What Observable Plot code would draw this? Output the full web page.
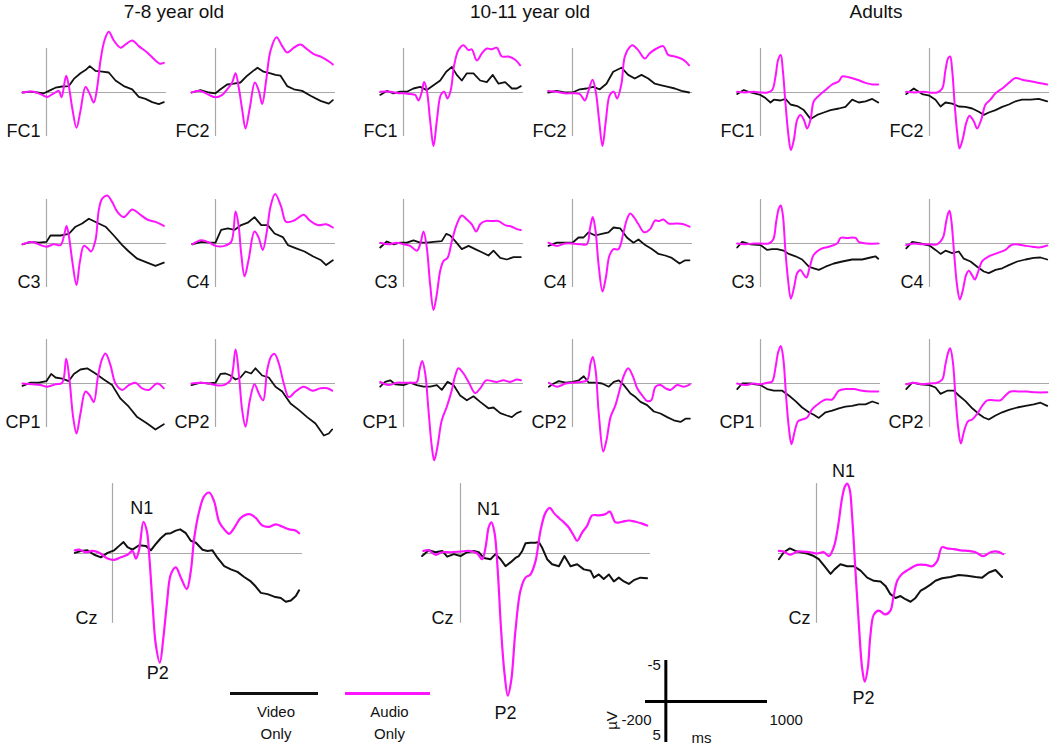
<!DOCTYPE html>
<html><head><meta charset="utf-8">
<script src="https://cdn.jsdelivr.net/npm/d3@7"></script>
<script src="https://cdn.jsdelivr.net/npm/@observablehq/plot@0.6"></script>
<style>
body{margin:0;background:#fff;}
#chart{position:relative;width:1050px;height:748px;overflow:hidden;font-family:Arial,"Liberation Sans",sans-serif;color:#111;}
.title{position:absolute;font-size:19px;transform:translateX(-50%);white-space:nowrap;}
.leg{position:absolute;font-size:15px;text-align:center;line-height:22px;transform:translateX(-50%);}
.legline{position:absolute;height:3px;}
</style></head><body><div id="chart"></div>
<script>
// ---------- DATA: [time ms, amplitude µV] (negative up) ----------
const groups = ["7-8 year old", "10-11 year old", "Adults"];
const electrodes = [["FC1","FC2"],["C3","C4"],["CP1","CP2"]];
const seriesNames = ["Video Only", "Audio Only"];

// 7-8 year old
const audio_78_FC1 = [[-200,0],[-106,-0.1],[-22,0.4],[6,0.55],[61,0.1],[103,-0.2],[125,0.6],[164,-2.1],[186,-0.8],[214,1.9],[250,4.4],[283,2.3],[325,-0.7],[361,0.2],[394,1.25],[422,-0.6],[450,-4.0],[483,-6.5],[519,-7.6],[561,-6.5],[617,-5.6],[658,-6.0],[714,-6.5],[769,-5.8],[839,-5.0],[908,-4.0],[944,-3.6],[978,-3.7]];
const video_78_FC1 = [[-200,0],[-133,-0.1],[-78,0],[-22,0.1],[33,-0.3],[75,-0.6],[131,-0.75],[186,-0.8],[228,-1.7],[283,-2.4],[325,-2.8],[361,-3.3],[408,-2.7],[464,-2.6],[519,-2.5],[575,-1.5],[644,-0.8],[714,-0.4],[769,0.55],[825,0.8],[881,1.2],[936,1.45],[978,1.2]];
const audio_78_FC2 = [[-200,0],[-125,-0.2],[-56,0.3],[0,0.6],[56,0.3],[97,-0.4],[139,-1.25],[167,-2.4],[194,-0.6],[222,2.1],[250,4.5],[286,1.9],[328,-1.25],[361,-0.2],[389,1.45],[422,-1.5],[458,-5.2],[508,-6.9],[556,-5.8],[597,-5.0],[653,-5.6],[708,-6.0],[764,-5.4],[819,-4.8],[889,-4.4],[958,-3.75],[978,-3.5]];
const video_78_FC2 = [[-200,0],[-125,-0.3],[-56,0],[0,0.1],[42,-0.4],[97,-1.0],[153,-1.1],[208,-1.25],[264,-2.1],[314,-2.7],[350,-3.1],[400,-2.6],[458,-2.4],[500,-2.2],[542,-2.1],[597,-0.8],[653,-0.4],[722,-0.2],[792,0.4],[875,1.05],[944,1.4],[978,0.95]];
const audio_78_C3 = [[-200,0.1],[-119,-0.2],[-50,0.2],[0,0.4],[61,0.1],[117,0.2],[150,-1.25],[167,-2.2],[186,-1.0],[214,2.1],[250,5.2],[278,2.3],[311,0.3],[344,0.6],[372,1.0],[408,-0.4],[436,-4.2],[464,-5.6],[506,-6.0],[547,-5.2],[589,-4.0],[644,-3.3],[714,-4.25],[769,-3.75],[839,-3.0],[908,-2.7],[978,-2.2]];
const video_78_C3 = [[-200,0.1],[-133,-0.2],[-64,-0.1],[0,-0.2],[33,-1.0],[75,-1.0],[117,-1.0],[186,-1.2],[242,-2.1],[297,-2.5],[353,-3.1],[422,-2.6],[492,-2.1],[561,-1.0],[631,0.2],[686,1.0],[756,1.9],[839,2.4],[908,2.8],[978,2.4]];
const audio_78_C4 = [[-194,0.1],[-119,-0.4],[-50,-0.1],[0,0.3],[75,0.3],[131,-0.2],[167,-4.0],[192,-2.3],[214,1.25],[242,4.1],[275,2.1],[325,-1.5],[358,-0.8],[394,0.8],[428,-1.5],[458,-4.6],[497,-6.2],[547,-4.6],[589,-2.7],[658,-2.9],[736,-3.6],[783,-2.9],[853,-2.3],[922,-2.4],[978,-2.0]];
const video_78_C4 = [[-194,0.1],[-119,-0.2],[-50,-0.1],[0,-0.1],[47,-1.7],[103,-1.9],[158,-1.7],[214,-2.3],[269,-2.6],[325,-3.3],[381,-2.3],[436,-2.3],[492,-1.25],[561,-0.8],[603,0.2],[672,0.6],[742,1.0],[811,1.6],[881,2.1],[922,2.7],[978,2.1]];
const audio_78_CP1 = [[-200,0],[-119,0.1],[-50,0.2],[6,0.4],[75,0.1],[131,-0.1],[164,-3.1],[192,-0.4],[222,4.2],[250,6.25],[283,3.75],[325,1.0],[361,1.5],[394,2.3],[428,-0.8],[464,-3.1],[492,-3.75],[533,-2.3],[575,0],[631,0.8],[686,0.2],[742,-0.1],[797,0.6],[853,0.8],[922,0],[978,0.6]];
const video_78_CP1 = [[-200,0.3],[-133,-0.1],[-64,-0.1],[0,-0.3],[39,-1.2],[75,-0.75],[131,-0.6],[186,-0.3],[228,-1.2],[283,-1.75],[339,-1.9],[408,-1.25],[478,-0.5],[547,0.2],[617,1.9],[686,2.9],[756,4.2],[839,5.0],[908,5.75],[978,5.1]];
const audio_78_CP2 = [[-200,0],[-125,-0.1],[-56,0],[0,0.2],[69,0.2],[125,-0.4],[167,-4.25],[194,-1.25],[222,3.3],[250,5.4],[286,2.1],[325,0.1],[361,1.25],[397,2.1],[431,-1.7],[464,-3.4],[492,-3.7],[528,-2.5],[569,0],[611,1.7],[667,1.0],[736,0.4],[806,0.9],[875,0.6],[931,0.6],[972,0.9]];
const video_78_CP2 = [[-200,0.2],[-125,-0.1],[-56,0],[0,-0.1],[42,-1.2],[83,-1.25],[125,-1.0],[167,-0.5],[208,-0.75],[250,-1.5],[297,-1.25],[333,-1.9],[389,-1.0],[444,-0.75],[500,0.4],[556,1.0],[625,2.5],[694,3.3],[764,4.2],[833,5.0],[903,6.5],[944,6.25],[972,5.75]];

// 10-11 year old
const audio_1011_FC1 = [[-194,-0.1],[-111,-0.1],[-42,0.1],[0,0.1],[56,0.2],[97,0.3],[125,1.0],[153,-0.1],[172,-1.3],[194,-0.3],[222,3.5],[250,6.7],[278,3.5],[311,0.3],[339,-0.1],[367,0.75],[394,-0.3],[422,-3.4],[458,-5.3],[500,-5.9],[542,-5.3],[569,-5.4],[611,-4.0],[653,-4.9],[694,-5.5],[736,-5.4],[778,-5.6],[819,-4.5],[875,-4.5],[931,-4.1],[972,-3.4]];
const video_1011_FC1 = [[-194,0.3],[-139,-0.2],[-83,0.1],[-28,-0.1],[28,-0.1],[83,-0.5],[139,-0.7],[194,-0.3],[250,-0.9],[306,-1.5],[356,-2.6],[403,-3.2],[444,-2.2],[486,-1.5],[528,-2.4],[583,-2.4],[639,-1.5],[694,-1.3],[744,-2.2],[792,-1.1],[847,-1.3],[903,-0.5],[944,-0.5],[978,-0.8]];
const audio_1011_FC2 = [[-203,-0.2],[-133,-0.1],[-64,0.1],[0,0.1],[61,0.2],[103,1.0],[131,-0.1],[167,-1.6],[194,-0.1],[222,3.5],[250,6.7],[278,3.5],[311,0.3],[344,-0.1],[372,0.75],[408,-1.1],[436,-4.5],[478,-5.7],[500,-5.9],[547,-5.3],[603,-4.25],[644,-4.9],[700,-5.5],[756,-5.8],[797,-4.7],[853,-4.5],[922,-4.1],[972,-3.4]];
const video_1011_FC2 = [[-203,0],[-133,-0.2],[-64,0],[0,0],[61,-0.4],[117,-0.5],[172,-0.7],[228,-0.4],[283,-1.1],[339,-2.6],[408,-3.1],[464,-2.2],[519,-1.75],[575,-2.2],[631,-1.75],[686,-1.1],[742,-0.9],[797,-0.7],[853,-0.5],[908,-0.2],[972,0]];
const audio_1011_C3 = [[-194,-0.1],[-125,0.1],[-56,-0.1],[0,0.1],[56,0.3],[111,0.9],[139,0.1],[167,-1.5],[194,0.5],[222,5.1],[250,8.3],[278,6.3],[306,3.4],[333,2.2],[367,1.8],[403,-0.3],[444,-2.4],[486,-3.5],[528,-3.0],[569,-2.4],[606,-1.5],[639,-2.4],[681,-2.8],[736,-2.8],[792,-2.8],[847,-2.3],[903,-2.1],[944,-1.8],[978,-1.7]];
const video_1011_C3 = [[-194,0.5],[-139,-0.25],[-83,0.1],[-28,-0.1],[28,-0.1],[83,-0.4],[139,-0.1],[194,-0.1],[250,-0.2],[319,-0.3],[356,-1.2],[389,-1.0],[431,-0.3],[486,0.7],[542,0.3],[597,0.7],[653,1.1],[708,1.5],[750,0.9],[806,1.8],[861,2.0],[917,1.7],[978,1.7]];
const audio_1011_C4 = [[-200,-0.1],[-131,0.3],[-61,0],[0,0],[64,0.1],[119,0.1],[147,-2.0],[169,-3.3],[192,-1.6],[217,2.6],[250,6.0],[278,4.25],[308,1.5],[342,0.7],[383,0.7],[425,-1.4],[453,-3.0],[481,-3.75],[514,-3.25],[550,-2.4],[597,-1.4],[647,-1.8],[689,-2.9],[717,-2.8],[758,-3.0],[800,-2.5],[869,-2.5],[925,-2.4],[975,-2.1]];
const video_1011_C4 = [[-200,0.3],[-131,-0.1],[-61,-0.1],[0,-0.1],[50,-0.75],[92,-0.75],[133,-1.4],[189,-1.0],[244,-1.2],[300,-1.4],[342,-2.0],[397,-1.9],[453,-0.75],[508,-0.1],[550,-0.5],[606,0.2],[661,0.7],[717,1.3],[772,1.5],[828,1.8],[892,2.5],[939,2.1],[975,2.1]];
const audio_1011_CP1 = [[-194,-0.2],[-125,0.2],[-56,-0.1],[0,-0.1],[56,-0.1],[111,-0.2],[133,-1.7],[156,-2.8],[181,-1.25],[208,3.3],[236,7.9],[256,9.6],[283,7.9],[319,4.6],[361,2.9],[403,0.8],[431,-1.0],[458,-1.9],[500,-1.25],[542,-0.2],[597,1.2],[639,0.6],[689,-0.4],[736,-0.3],[778,-0.2],[833,-0.4],[889,-0.2],[944,-0.5],[978,-0.4]];
const video_1011_CP1 = [[-194,0.4],[-153,-0.2],[-111,-0.4],[-69,0.1],[0,0.2],[56,-0.1],[111,0.2],[167,0.4],[222,0.4],[278,0.2],[319,0.8],[367,-0.2],[417,0.2],[472,1.5],[528,2.1],[583,1.6],[639,2.3],[708,3.1],[750,3.0],[806,3.7],[861,4.0],[903,4.2],[944,3.7],[978,3.5]];
const audio_1011_CP2 = [[-197,-0.1],[-128,0.4],[-58,0],[0,-0.1],[67,-0.2],[122,-0.4],[150,-2.5],[169,-3.3],[192,-1.7],[219,3.75],[256,8.5],[283,7.1],[317,4.2],[358,2.7],[400,0.4],[428,-1.0],[464,-1.9],[506,-0.8],[539,0.6],[581,1.5],[622,2.2],[656,2.1],[692,0.4],[733,0.2],[775,0.6],[817,0.8],[872,0.2],[928,0.4],[978,0.1]];
const video_1011_CP2 = [[-197,0.4],[-156,0],[-114,-0.3],[-58,-0.1],[0,-0.2],[53,-0.4],[94,-0.9],[136,-0.1],[192,-0.1],[247,0],[303,0.4],[344,-0.2],[386,-0.4],[428,0.2],[483,1.25],[525,1.7],[567,2.3],[622,2.7],[678,3.5],[733,3.75],[789,4.2],[844,4.6],[900,4.8],[942,4.4],[978,4.4]];

// Adults
const audio_ad_FC1 = [[-194,-0.1],[-125,0],[-56,-0.1],[0,0],[56,0],[97,-0.3],[125,-2.0],[147,-4.1],[169,-4.7],[186,-2.8],[208,1.3],[231,5.1],[253,7.2],[278,5.9],[306,3.4],[333,2.8],[361,3.4],[389,4.5],[417,3.4],[444,1.1],[486,0.4],[542,-0.3],[597,-1.0],[653,-1.4],[681,-2.0],[736,-1.9],[806,-1.6],[875,-1.2],[931,-1.0],[981,-1.0]];
const video_ad_FC1 = [[-194,0.2],[-139,-0.3],[-83,0],[0,0.3],[42,0.7],[83,1.25],[111,0.9],[167,1.0],[208,0.8],[250,1.5],[306,1.7],[361,2.2],[417,3.3],[472,2.8],[528,2.5],[583,2.2],[653,2.0],[708,1.8],[764,0.9],[819,1.25],[875,1.1],[931,0.8],[981,1.25]];
const audio_ad_FC2 = [[-194,-0.1],[-117,0],[-47,-0.1],[0,0],[64,0],[106,-0.5],[133,-2.8],[156,-4.3],[172,-4.5],[189,-2.8],[211,1.75],[233,5.3],[250,7.0],[278,5.75],[306,3.8],[333,2.9],[369,3.6],[397,4.5],[431,3.4],[467,1.5],[508,0.9],[550,0.1],[606,-0.5],[661,-1.2],[717,-1.8],[772,-1.6],[842,-1.4],[911,-1.2],[981,-1.0]];
const video_ad_FC2 = [[-194,0.2],[-131,-0.5],[-61,0.2],[0,0.4],[50,0.9],[92,1.75],[133,1.25],[189,1.4],[244,1.75],[300,1.8],[356,2.0],[411,2.4],[453,2.8],[494,2.5],[550,2.2],[606,1.8],[661,1.5],[717,1.1],[772,0.9],[842,0.9],[911,0.8],[981,1.1]];
const audio_ad_C3 = [[-194,0],[-125,0.1],[-56,0],[0,0],[69,0],[106,-0.5],[131,-2.75],[153,-4.4],[169,-4.75],[186,-3.6],[208,1.0],[231,4.75],[253,6.9],[281,5.4],[306,3.7],[333,3.3],[361,3.9],[383,4.25],[408,3.1],[444,1.4],[500,0.7],[569,0.4],[639,0],[667,-0.7],[722,-0.7],[792,-0.7],[819,-0.2],[889,0],[981,0]];
const video_ad_C3 = [[-194,0.5],[-153,-0.2],[-83,0.1],[0,0.2],[56,0.8],[97,0.7],[139,0.7],[194,0.9],[236,1.3],[292,1.6],[347,2.0],[403,2.9],[444,3.1],[486,3.3],[542,2.9],[611,2.5],[681,2.25],[764,2.0],[847,2.0],[917,1.75],[958,1.6],[981,1.9]];
const audio_ad_C4 = [[-194,0.2],[-131,0],[-61,0.1],[0,0.1],[64,0.1],[111,-0.7],[139,-2.75],[156,-3.8],[167,-4.1],[183,-2.75],[206,1.4],[231,5.4],[253,7.0],[278,5.8],[306,3.9],[328,3.4],[356,4.0],[378,4.5],[406,3.5],[439,2.2],[494,1.6],[564,1.2],[633,0.8],[675,0.25],[717,0.1],[786,0.25],[856,0.4],[911,0.5],[981,0.25]];
const video_ad_C4 = [[-194,0.6],[-144,-0.2],[-75,0],[0,0.25],[50,0.8],[92,1.3],[133,0.9],[189,1.2],[244,1.0],[286,1.9],[342,2.25],[397,2.9],[453,3.5],[494,3.7],[550,3.3],[606,3.1],[661,2.7],[731,2.25],[800,2.0],[869,1.8],[925,1.75],[981,2.0]];
const audio_ad_CP1 = [[-194,0],[-125,0.2],[-56,0],[0,0.1],[56,-0.1],[97,-0.25],[125,-2.0],[147,-3.9],[169,-4.7],[189,-3.25],[214,1.75],[236,5.5],[258,7.6],[286,5.9],[314,4.7],[347,4.5],[389,4.25],[431,3.2],[486,2.5],[542,2.0],[597,2.0],[653,0.9],[708,0.7],[778,0.7],[847,0.9],[917,1.0],[981,1.0]];
const video_ad_CP1 = [[-194,0.7],[-153,0],[-83,0],[0,0.2],[56,0.7],[111,0.9],[181,0.9],[236,1.5],[292,2.2],[347,3.0],[403,3.6],[444,3.9],[486,4.3],[542,3.6],[597,3.4],[653,3.1],[708,2.9],[764,2.8],[819,2.6],[875,2.6],[931,2.25],[981,2.5]];
const audio_ad_CP2 = [[-194,0.1],[-131,-0.1],[-61,0.1],[0,0],[64,-0.1],[106,-0.5],[133,-2.4],[156,-3.9],[172,-4.4],[194,-2.8],[217,1.75],[239,5.5],[261,7.5],[289,5.9],[322,4.7],[356,4.5],[397,3.8],[439,2.8],[481,2.1],[536,2.1],[592,2.1],[633,1.5],[675,1.0],[744,1.0],[814,1.0],[883,1.1],[981,1.1]];
const video_ad_CP2 = [[-194,0.7],[-144,-0.1],[-75,0.1],[0,0.2],[50,0.5],[92,1.3],[147,0.9],[203,0.9],[244,1.5],[300,2.2],[356,3.1],[411,3.8],[453,4.25],[494,4.5],[550,4.0],[606,3.6],[661,3.3],[731,3.0],[800,2.8],[869,2.6],[925,2.4],[981,2.8]];

// Cz (large panels)
const audio_78_Cz = [[-198,-0.25],[-175,-0.3],[-140,-0.1],[-105,-0.2],[-70,-0.05],[-26,0.4],[9,0.5],[44,0.3],[79,0.1],[105,-0.2],[123,0.4],[140,-0.3],[163,-2.5],[181,-1.75],[193,0.1],[211,4.0],[228,7.2],[249,8.6],[268,6.6],[286,4.0],[307,1.65],[333,1.1],[360,1.9],[391,2.8],[412,1.4],[430,-1.2],[456,-3.3],[482,-4.5],[509,-4.8],[535,-4.1],[561,-2.5],[588,-1.9],[614,-1.55],[640,-2.0],[675,-2.8],[719,-3.1],[754,-2.8],[789,-2.2],[825,-2.1],[860,-2.3],[895,-2.1],[930,-1.9],[965,-1.8],[982,-1.6]];
const video_78_Cz = [[-198,-0.05],[-167,-0.2],[-132,-0.25],[-96,0.1],[-61,0.3],[-26,-0.05],[9,-0.25],[35,-0.6],[58,-0.9],[79,-0.5],[105,-0.3],[140,-0.65],[175,-0.6],[202,-0.25],[228,-0.75],[254,-1.2],[281,-1.55],[307,-1.6],[333,-1.8],[356,-1.9],[386,-1.6],[412,-1.0],[439,-0.85],[474,-0.3],[500,-0.2],[526,-0.25],[553,0.35],[588,1.0],[623,1.25],[658,1.45],[693,1.85],[728,2.2],[754,2.6],[781,3.1],[816,3.2],[851,3.4],[886,3.5],[912,3.8],[939,3.7],[965,3.35],[982,2.9]];
const audio_1011_Cz = [[-196,-0.2],[-167,-0.25],[-132,0.1],[-96,-0.1],[-53,-0.1],[0,-0.15],[44,-0.2],[88,0],[114,0.45],[132,-0.5],[149,-2.1],[163,-2.45],[179,-1.65],[196,1.35],[214,6.1],[232,9.5],[249,11.2],[267,10.0],[289,6.1],[316,2.9],[342,1.9],[368,1.65],[395,0.6],[421,-1.8],[447,-3.2],[470,-3.6],[491,-3.2],[518,-2.8],[544,-2.45],[570,-2.05],[596,-1.4],[614,-1.0],[640,-1.65],[667,-2.2],[693,-3.0],[728,-3.0],[763,-3.1],[786,-3.3],[816,-2.45],[851,-2.5],[886,-2.6],[921,-2.5],[956,-2.35],[982,-2.2]];
const video_1011_Cz = [[-202,0.2],[-167,-0.25],[-132,-0.1],[-96,-0.2],[-70,0.25],[-35,0.05],[0,0.2],[35,-0.1],[70,-0.2],[96,-0.1],[123,0.35],[158,0.45],[184,0.05],[211,0.45],[237,1.0],[263,0.7],[289,0.35],[307,0.2],[325,-0.2],[342,-0.8],[368,-0.85],[395,-0.85],[412,-0.9],[430,-0.45],[456,0.45],[482,0.85],[518,1.0],[547,0.2],[579,1.0],[614,0.85],[649,1.25],[684,1.35],[702,1.9],[728,1.65],[754,2.0],[781,1.65],[807,2.2],[833,1.9],[860,2.2],[886,2.4],[912,2.1],[947,1.9],[982,1.95]];
const audio_ad_Cz = [[-198,-0.2],[-172,-0.15],[-137,0.1],[-102,-0.15],[-67,-0.15],[-32,-0.1],[4,0],[39,-0.1],[65,0.2],[91,-0.5],[112,-2.0],[135,-4.4],[149,-5.25],[161,-5.5],[174,-5.1],[188,-2.8],[205,1.35],[223,5.6],[240,9.0],[254,10.1],[270,9.0],[284,6.4],[302,4.8],[328,4.5],[363,4.8],[389,4.5],[404,3.5],[425,2.15],[451,1.6],[486,1.25],[530,0.9],[574,0.9],[609,1.0],[635,0.6],[661,-0.5],[688,-0.4],[723,-0.35],[758,-0.25],[802,-0.2],[837,-0.1],[877,0.2],[916,-0.1],[951,-0.15],[982,0.05]];
const video_ad_Cz = [[-198,0.45],[-172,-0.1],[-140,-0.4],[-111,-0.2],[-84,-0.1],[-49,0],[-14,0.2],[12,0.45],[42,1.0],[74,1.6],[95,1.25],[126,0.85],[161,1.0],[196,1.0],[232,1.35],[267,1.9],[302,2.15],[337,2.2],[363,2.55],[389,3.2],[416,3.5],[442,3.35],[468,3.6],[495,3.8],[521,3.5],[547,2.95],[574,2.7],[600,2.45],[626,2.15],[661,1.95],[705,1.85],[749,1.7],[793,1.75],[837,1.85],[872,1.9],[907,1.5],[942,1.3],[977,1.85]];

// component labels on Cz panels: [label, time, µV]
const czPeaks = {
  "78": [["N1",154,-3.6],["P2",238,9.4]],
  "1011": [["N1",147,-3.5],["P2",237,12.6]],
  "ad": [["N1",142,-6.5],["P2",247,11.4]]
};
// scale bar
const scaleTime = [-200, 1000];
const scaleAmp = [-5, 5];

// ---------- LAYOUT ----------
const chart = document.getElementById("chart");
const FONT = 'Arial, "Liberation Sans", sans-serif';
const MAGENTA = "#ff14ff";
const DATA = {
  "78": {FC1:[audio_78_FC1,video_78_FC1],FC2:[audio_78_FC2,video_78_FC2],C3:[audio_78_C3,video_78_C3],C4:[audio_78_C4,video_78_C4],CP1:[audio_78_CP1,video_78_CP1],CP2:[audio_78_CP2,video_78_CP2],Cz:[audio_78_Cz,video_78_Cz]},
  "1011": {FC1:[audio_1011_FC1,video_1011_FC1],FC2:[audio_1011_FC2,video_1011_FC2],C3:[audio_1011_C3,video_1011_C3],C4:[audio_1011_C4,video_1011_C4],CP1:[audio_1011_CP1,video_1011_CP1],CP2:[audio_1011_CP2,video_1011_CP2],Cz:[audio_1011_Cz,video_1011_Cz]},
  "ad": {FC1:[audio_ad_FC1,video_ad_FC1],FC2:[audio_ad_FC2,video_ad_FC2],C3:[audio_ad_C3,video_ad_C3],C4:[audio_ad_C4,video_ad_C4],CP1:[audio_ad_CP1,video_ad_CP1],CP2:[audio_ad_CP2,video_ad_CP2],Cz:[audio_ad_Cz,video_ad_Cz]}
};
const groupKeys = ["78","1011","ad"];
const groupX0 = [[46,215],[403,572],[760,929]];   // pixel of t=0 for left/right column
const rowY0 = [92,243,383];                        // pixel of 0 µV per row
const czX0 = [112,460,816], czY0 = 552.5;
const czLabelDx = [-15,-7,-6];
const titleX = [174,530,876];

const rows = arr => arr.map(([t,v]) => ({t, v}));

function panel(key, name, x0, y0, big, labelDx) {
  const [audio, video] = DATA[key][name];
  const W = big ? 300 : 200, H = big ? 320 : 200;
  const ox = 60, oy = big ? 110 : 100;
  const pxms = big ? 0.19 : 0.12, pxuv = big ? 12.7 : 8;
  const marks = [
    Plot.ruleY([0], {x1: -200, x2: 1000, stroke: "#a8a8a8", strokeWidth: 1.2}),
    Plot.ruleX([0], {y1: -5.5, y2: 5.5, stroke: "#a8a8a8", strokeWidth: 1.2}),
    Plot.line(rows(video), {x: "t", y: "v", stroke: "#111", strokeWidth: big ? 2 : 1.8, curve: "linear"}),
    Plot.line(rows(audio), {x: "t", y: "v", stroke: MAGENTA, strokeWidth: big ? 2.2 : 2, curve: "catmull-rom"}),
    Plot.text([name], {x: 0, y: big ? 5.1 : 4.8, dx: labelDx, text: d => d, textAnchor: "end", fontSize: 18, fill: "#111"})
  ];
  if (big) {
    marks.push(Plot.text(czPeaks[key], {x: d => d[1], y: d => d[2], text: d => d[0], fontSize: 18, fill: "#111"}));
  }
  const svg = Plot.plot({
    width: W, height: H, margin: 0,
    x: {domain: [-200, 1000], range: [ox - 200 * pxms, ox + 1000 * pxms], axis: null},
    y: {domain: [-5.5, 5.5], range: [oy - 5.5 * pxuv, oy + 5.5 * pxuv], axis: null},
    style: {background: "transparent", overflow: "visible", fontFamily: FONT},
    marks
  });
  svg.style.position = "absolute";
  svg.style.left = (x0 - ox) + "px";
  svg.style.top = (y0 - oy) + "px";
  chart.appendChild(svg);
}

groupKeys.forEach((key, g) => {
  const t = document.createElement("div");
  t.className = "title"; t.textContent = groups[g];
  t.style.left = titleX[g] + "px"; t.style.top = "1px";
  chart.appendChild(t);
  electrodes.forEach((pair, r) => {
    pair.forEach((name, c) => panel(key, name, groupX0[g][c], rowY0[r], false, -6));
  });
  panel(key, "Cz", czX0[g], czY0, true, czLabelDx[g]);
});

// legend
[[seriesNames[0], "#111", 230, 318], [seriesNames[1], MAGENTA, 345, 430]].forEach(([label, col, a, b]) => {
  const l = document.createElement("div");
  l.className = "legline"; l.style.background = col;
  l.style.left = a + "px"; l.style.width = (b - a) + "px"; l.style.top = "692px";
  chart.appendChild(l);
  const t = document.createElement("div");
  t.className = "leg"; t.innerHTML = label.replace(" ", "<br>");
  t.style.left = ((a + b) / 2 + 2) + "px"; t.style.top = "701px";
  chart.appendChild(t);
});

// scale bar
{
  const L = 590, T = 640;
  const svg = Plot.plot({
    width: 240, height: 104, margin: 0,
    x: {domain: scaleTime, range: [645 - L, 767 - L], axis: null},
    y: {domain: scaleAmp, range: [660 - T, 742 - T], axis: null},
    style: {background: "transparent", overflow: "visible", fontFamily: FONT},
    marks: [
      Plot.ruleY([0], {x1: scaleTime[0], x2: scaleTime[1], stroke: "#000", strokeWidth: 3}),
      Plot.ruleX([0], {y1: scaleAmp[0], y2: scaleAmp[1], stroke: "#000", strokeWidth: 3}),
      Plot.text([scaleAmp[0]], {x: 0, y: d => d, text: d => String(d), dx: -5, dy: 5, textAnchor: "end", fontSize: 15, fill: "#111"}),
      Plot.text([scaleAmp[1]], {x: 0, y: d => d, text: d => String(d), dx: -5, dy: -7, textAnchor: "end", fontSize: 15, fill: "#111"}),
      Plot.text([scaleTime[0]], {x: d => d, y: 0, text: d => String(d), dx: 6, dy: 19, textAnchor: "end", fontSize: 15, fill: "#111"}),
      Plot.text([scaleTime[1]], {x: d => d, y: 0, text: d => String(d), dx: 2, dy: 19, textAnchor: "start", fontSize: 15, fill: "#111"}),
      Plot.text(["ms"], {x: 350, y: 0, text: d => d, dy: 37, fontSize: 15, fill: "#111"}),
      Plot.text(["µV"], {x: -200, y: 0, text: d => d, dx: -33, dy: 19, rotate: -90, fontSize: 15, fill: "#111"})
    ]
  });
  svg.style.position = "absolute"; svg.style.left = L + "px"; svg.style.top = T + "px";
  chart.appendChild(svg);
}
</script></body></html>
